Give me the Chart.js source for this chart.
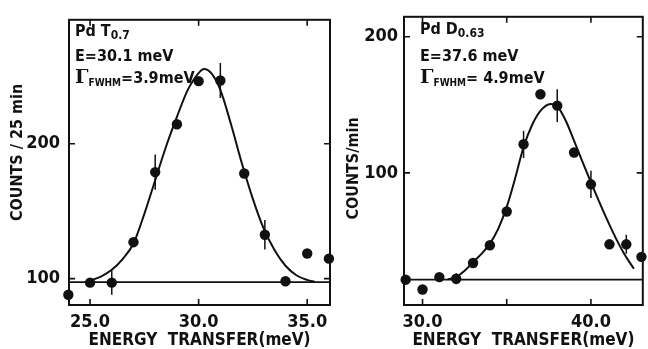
<!DOCTYPE html>
<html><head><meta charset="utf-8">
<script src="https://cdn.jsdelivr.net/npm/chart.js@4/dist/chart.umd.min.js"></script>
<style>
html,body{margin:0;padding:0;background:#fff;}
#wrap{position:relative;width:648px;height:349px;overflow:hidden;background:#fff;}
canvas{position:absolute;top:0;}
.ann{position:absolute;font-family:"DejaVu Sans Condensed","DejaVu Sans";font-weight:bold;font-size:16px;line-height:16px;color:#111;white-space:nowrap;}
.sub{font-size:12px;position:relative;top:3px;}
.gam{font-family:"DejaVu Serif";font-weight:bold;font-size:19px;}
.fw{font-size:10px;font-weight:bold;position:relative;top:3px;}
</style></head>
<body><div id="wrap">
<canvas id="c1" width="336" height="349" style="left:0"></canvas>
<canvas id="c2" width="312" height="349" style="left:336px"></canvas>
<div class="ann" style="left:75px;top:23px">Pd T<span class="sub">0.7</span></div>
<div class="ann" style="left:75px;top:48px">E=30.1 meV</div>
<div class="ann" style="left:75px;top:68px"><span class="gam">Γ</span><span class="fw">FWHM</span>=3.9meV</div>
<div class="ann" style="left:420px;top:21px">Pd D<span class="sub">0.63</span></div>
<div class="ann" style="left:420px;top:48px">E=37.6 meV</div>
<div class="ann" style="left:420px;top:68px"><span class="gam">Γ</span><span class="fw">FWHM</span>= 4.9meV</div>
</div>
<script>
// ---- Pd T0.7 (left panel) ----
const tEnergy = [24.0, 25.0, 26.0, 27.0, 28.0, 29.0, 30.0, 31.0, 32.1, 33.05, 34.0, 35.0, 36.0];
const tCounts = [88, 97, 97, 127, 179, 214.5, 246.5, 247, 178, 132.5, 98, 118.6, 114.8];
const tErr    = [0, 0, 9, 0, 13, 0, 0, 13, 0, 11, 0, 0, 0];
const tFitE = [24.9, 25.5, 26.0, 26.5, 27.0, 27.5, 28.0, 28.5, 29.0, 29.5, 30.0, 30.25, 30.6, 31.0, 31.5, 32.0, 32.5, 33.0, 33.5, 34.0, 34.5, 35.0, 35.35];
const tFitC = [98, 101.5, 106.5, 114.5, 126, 148, 173, 198, 220, 240, 252.5, 255.5, 252, 240, 214, 185, 159, 137, 121, 109.5, 102.5, 99, 97.5];
const tBase = 97.3;
const tXRange = [24.03, 36.05];
const tYRange = [80.4, 292];
const tXTicks = [25, 30, 35];
const tXLabels = ["25.0", "30.0", "35.0"];
const tYTicks = [100, 200];
const tYLabels = ["100", "200"];

// ---- Pd D0.63 (right panel) ----
const dEnergy = [29.0, 30.0, 31.0, 32.0, 33.0, 34.0, 35.0, 36.0, 37.0, 38.0, 39.0, 40.0, 41.1, 42.1, 43.0];
const dCounts = [21.5, 14.3, 23.4, 22.2, 33.8, 46.8, 71.6, 121, 157.8, 149.4, 115, 91.6, 47.5, 47.5, 38.3];
const dErr    = [0, 0, 0, 4, 0, 0, 0, 10, 0, 12, 0, 10, 0, 7, 0];
const dFitE = [31.5, 32.0, 32.5, 33.0, 33.5, 34.0, 34.5, 35.0, 35.5, 36.0, 36.5, 37.0, 37.6, 38.0, 38.5, 39.0, 39.5, 40.0, 40.5, 41.0, 41.5, 42.0, 42.55];
const dFitC = [21.8, 23.5, 28, 34.5, 40.5, 48, 59, 75, 96, 119, 135, 145.5, 150.6, 149, 138.5, 123.5, 108, 93, 78.5, 64.5, 51.5, 40, 29.5];
const dBase = 21.5;
const dXRange = [28.9, 43.08];
const dYRange = [2.9, 214.7];
const dXTicks = [30, 35, 40];
const dXLabels = ["30.0", "", "40.0"];
const dYTicks = [100, 200];
const dYLabels = ["100", "200"];

const INK = '#111';
Chart.defaults.font.family = '"DejaVu Sans Condensed", "DejaVu Sans"';
Chart.defaults.font.weight = 'bold';
Chart.defaults.color = INK;

const framePlugin = {
  id: 'frame',
  afterDatasetsDraw(chart, args, opts) {
    const {ctx, chartArea: a, scales: {x, y}} = chart;
    ctx.save();
    ctx.strokeStyle = INK;
    ctx.lineWidth = 2;
    ctx.strokeRect(a.left, a.top, a.right - a.left, a.bottom - a.top);
    ctx.lineWidth = 1.6;
    const L = 6;
    ctx.beginPath();
    x.ticks.forEach(t => {
      const px = x.getPixelForValue(t.value);
      ctx.moveTo(px, a.bottom); ctx.lineTo(px, a.bottom - L);
      ctx.moveTo(px, a.top); ctx.lineTo(px, a.top + L);
    });
    y.ticks.forEach(t => {
      const py = y.getPixelForValue(t.value);
      ctx.moveTo(a.left, py); ctx.lineTo(a.left + L, py);
      ctx.moveTo(a.right, py); ctx.lineTo(a.right - L, py);
    });
    ctx.stroke();
    // error bars
    ctx.lineWidth = 1.5;
    ctx.beginPath();
    opts.xs.forEach((xv, i) => {
      const e = opts.err[i];
      if (!e) return;
      const px = x.getPixelForValue(xv);
      ctx.moveTo(px, y.getPixelForValue(opts.ys[i] - e));
      ctx.lineTo(px, y.getPixelForValue(opts.ys[i] + e));
    });
    ctx.stroke();
    ctx.restore();
  }
};

function makeChart(id, cfg) {
  const pts = cfg.xs.map((v, i) => ({x: v, y: cfg.ys[i]}));
  const fit = cfg.fitE.map((v, i) => ({x: v, y: cfg.fitC[i]}));
  const base = [{x: cfg.xr[0], y: cfg.base}, {x: cfg.xr[1], y: cfg.base}];
  return new Chart(document.getElementById(id), {
    type: 'scatter',
    data: {
      datasets: [
        {data: base, showLine: true, pointRadius: 0, borderColor: INK, borderWidth: 1.8},
        {data: fit, showLine: true, pointRadius: 0, borderColor: INK, borderWidth: 2, tension: 0.4, cubicInterpolationMode: 'monotone'},
        {data: pts, showLine: false, pointRadius: 5.2, pointBackgroundColor: INK, pointBorderWidth: 0, clip: false}
      ]
    },
    options: {
      responsive: false,
      animation: false,
      events: [],
      layout: {padding: {left: 0, right: cfg.padR, top: cfg.padT, bottom: 0}},
      plugins: {legend: {display: false}, tooltip: {enabled: false},
        frame: {xs: cfg.xs, ys: cfg.ys, err: cfg.err}},
      scales: {
        x: {
          type: 'linear', min: cfg.xr[0], max: cfg.xr[1],
          afterBuildTicks: s => { s.ticks = cfg.xt.map(v => ({value: v})); },
          afterFit: s => { s.height = 44; },
          grid: {display: false, drawTicks: false},
          border: {display: false},
          ticks: {padding: 7, font: {size: 18}, color: INK, maxRotation: 0,
            callback: v => { const k = cfg.xt.indexOf(v); return k >= 0 ? cfg.xl[k] : ''; }},
          title: {display: true, text: 'ENERGY  TRANSFER(meV)', font: {size: 17, lineHeight: 1}, color: INK, padding: {top: 0, bottom: 0}}
        },
        y: {
          type: 'linear', min: cfg.yr[0], max: cfg.yr[1],
          afterBuildTicks: s => { s.ticks = cfg.yt.map(v => ({value: v})); },
          afterFit: s => { s.width = cfg.yW; },
          grid: {display: false, drawTicks: false},
          border: {display: false},
          ticks: {padding: cfg.yPad, font: {size: 18}, color: INK,
            callback: v => { const k = cfg.yt.indexOf(v); return k >= 0 ? cfg.yl[k] : ''; }},
          title: {display: true, text: cfg.ytitle, font: {size: 16, lineHeight: 1}, color: INK, padding: {top: 10, bottom: 0}}
        }
      }
    },
    plugins: [framePlugin]
  });
}

makeChart('c1', {xs: tEnergy, ys: tCounts, err: tErr, fitE: tFitE, fitC: tFitC, base: tBase,
  xr: tXRange, yr: tYRange, xt: tXTicks, xl: tXLabels, yt: tYTicks, yl: tYLabels,
  padR: 6, padT: 13, yW: 69, yPad: 9, ytitle: '    COUNTS / 25 min'});
makeChart('c2', {xs: dEnergy, ys: dCounts, err: dErr, fitE: dFitE, fitC: dFitC, base: dBase,
  xr: dXRange, yr: dYRange, xt: dXTicks, xl: dXLabels, yt: dYTicks, yl: dYLabels,
  padR: 1, padT: 12, yW: 68, yPad: 6, ytitle: 'COUNTS/min   '});
</script>
</body></html>
